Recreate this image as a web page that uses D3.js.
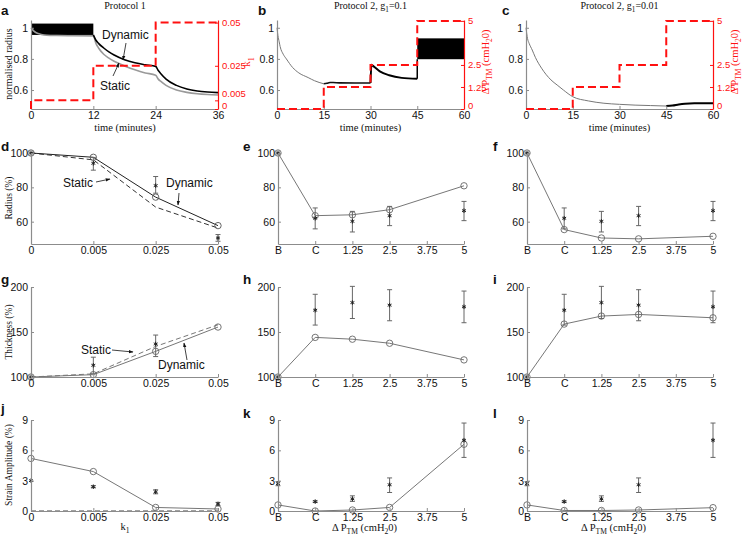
<!DOCTYPE html>
<html><head><meta charset="utf-8">
<script src="https://cdn.jsdelivr.net/npm/d3@7"></script>
<style>body{margin:0;background:#fff}svg{display:block}</style>
</head><body>
<svg id="c" width="743" height="535"></svg>
<script>
// ---------------- DATA ----------------
// Panel a (Protocol 1)
const aTicksX=[0,12,24,36], aTicksY=[0.6,0.8,1], aTicksK=[0,0.005,0.025,0.05];
const aBandT=[0,12], aBandR=[0.954,1.027];
const aStaT=[0,0.5,1,2,3,5,8,12,12.5,13,14,15,16,18,20,22,24,24.5,25,26,28,30,32,34,36];
const aStaR=[1.0,0.98,0.968,0.957,0.952,0.95,0.949,0.948,0.9,0.87,0.83,0.805,0.785,0.755,0.73,0.71,0.695,0.67,0.655,0.63,0.6,0.585,0.576,0.571,0.568];
const aDynT=[12,12.5,13,14,15,16,18,20,22,24,24.5,25,26,28,30,32,34,36];
const aDynR=[0.954,0.92,0.9,0.87,0.845,0.825,0.795,0.775,0.762,0.752,0.725,0.705,0.67,0.63,0.607,0.594,0.587,0.583];
const aStepT=[0,0,12,12,24,24,36];
const aStepK=[0,0.005,0.005,0.025,0.025,0.05,0.05];
// Panel b (Protocol 2, g1=0.1)
const bcTicksX=[0,15,30,45,60], bcTicksP=[0,1.25,2.5,5];
const bT1=[0,0.3,0.7,1,2,3,5,7,10,12,15], bR1=[1.0,0.95,0.91,0.88,0.83,0.8,0.745,0.71,0.68,0.66,0.64];
const bT2=[15,16,17,18,20,25,30], bR2=[0.64,0.643,0.648,0.648,0.646,0.645,0.645];
const bT3=[30,30.3,31,33,36,40,45], bR3=[0.645,0.762,0.752,0.72,0.695,0.678,0.672];
const bBandT=[45,60], bBandR=[0.798,0.932];
const stepT=[0,15,15,30,30,45,45,60], stepP=[0,0,1.25,1.25,2.5,2.5,5,5];
// Panel c (Protocol 2, g1=0.01)
const cT1=[0,0.5,1,2,3,5,8,10,12,15,20,25,30,35,40,45];
const cR1=[1.0,0.93,0.9,0.857,0.81,0.74,0.665,0.632,0.6,0.557,0.53,0.515,0.508,0.503,0.5,0.497];
const cT2=[45,47,49,51,54,60], cR2=[0.497,0.5,0.507,0.512,0.515,0.515];
// Panels d, g, j (vs k1)
const kCats=["0","0.005","0.025","0.05"];
const dDyn=[100,97.5,74.3,57.7], dSta=[100,96,68.5,56.3];
const dExp=[100,94,81,50.5], dExpLo=[100,90,76.6,48.6], dExpHi=[100,97.4,86.3,52.5];
const gDyn=[100,102.6,128.5,155.5], gSta=[100,103.5,134,158];
const gExp=[100,113,136.7], gExpLo=[100,103.6,122.7], gExpHi=[100,122,146.6];
const jDyn=[5.2,3.9,0.35,0.2], jSta=[0,0,0,0];
const jExp=[3.0,2.4,1.9,0.7], jExpLo=[3.0,2.3,1.7,0.55], jExpHi=[3.0,2.5,2.1,0.85];
// Panels e,f,h,i,k,l (vs pressure)
const pTicks=[-1.25,0,1.25,2.5,3.75,5], pTickLabels=["B","C","1.25","2.5","3.75","5"];
const pX=[-1.25,0,1.25,2.5,5];
const rExp=[100,62,60.2,63.5,66.4], rExpLo=[100,55.8,54,57.7,60.6], rExpHi=[100,68,66,68.9,71.8];
const eModel=[100,63.5,64,67,80.9], fModel=[100,55.4,50.5,50,51.5];
const tExp=[100,174.2,182.7,179.8,178], tExpLo=[100,157.7,165,162.5,160.3], tExpHi=[100,191.9,200.7,197,195.5];
const hModel=[100,144,142,137.5,119], iModel=[100,158.8,167.7,169.5,165.8];
const sExp=[2.7,0.93,1.2,2.6,7.0], sExpLo=[2.5,0.85,0.95,1.83,5.3], sExpHi=[2.9,1.0,1.5,3.27,8.7];
const kModel=[0.6,0,0.1,0.35,6.6], lModel=[0.6,0.05,0.05,0.1,0.33];
const ticksR=[60,80,100], ticksT=[100,150,200], ticksS=[0,3,6,9];

// ---------------- DRAW ----------------
const SANS="'Liberation Sans', Arial, Helvetica, sans-serif";
const SERIF="'Liberation Serif', 'Times New Roman', serif";
const AX='#8c8c8c', RED='#ff1010';
const svg=d3.select('#c');
const defs=svg.append('defs');
defs.append('marker').attr('id','arr').attr('viewBox','0 0 10 10').attr('refX',9).attr('refY',5)
  .attr('markerWidth',6).attr('markerHeight',6).attr('orient','auto-start-reverse')
  .append('path').attr('d','M0,1.5L10,5L0,8.5z').attr('fill','#111');

const colL=[31,277,526], colR=[218,464,713];

function styleAxis(g,color,fs,tc){
  g.select('.domain').attr('stroke',color).attr('stroke-width',1.2);
  g.selectAll('.tick line').attr('stroke',color);
  g.selectAll('.tick text').attr('font-family',SANS).attr('font-size',fs||10.5).attr('fill',tc||'#111');
}
function axB(x,y0,ticks,labels){
  const a=d3.axisBottom(x).tickSizeInner(-3).tickSizeOuter(0).tickPadding(3);
  if(ticks) a.tickValues(ticks);
  if(labels) a.tickFormat((d,i)=>labels[i]);
  styleAxis(svg.append('g').attr('transform',`translate(0,${y0})`).call(a),AX);
}
function axL(y,x0,ticks,fmt){
  const a=d3.axisLeft(y).tickValues(ticks).tickSizeInner(-3).tickSizeOuter(0).tickPadding(3);
  if(fmt) a.tickFormat(fmt);
  styleAxis(svg.append('g').attr('transform',`translate(${x0},0)`).call(a),AX);
}
function axR(y,x0,ticks,fmt){
  const a=d3.axisRight(y).tickValues(ticks).tickSizeInner(-3).tickSizeOuter(0).tickPadding(4);
  if(fmt) a.tickFormat(fmt);
  const g=svg.append('g').attr('transform',`translate(${x0},0)`).call(a);
  styleAxis(g,RED,9.5,RED);
  g.selectAll('.tick text').filter(d=>d===0).attr('dy','-0.08em');
  return g;
}
function line(xs,ys,x,y,attrs,curve){
  const data=d3.zip(xs,ys).filter(d=>d[1]!=null);
  const p=svg.append('path').datum(data)
    .attr('d',d3.line().x(d=>x(d[0])).y(d=>y(d[1])).curve(curve||d3.curveLinear))
    .attr('fill','none');
  for(const k in attrs) p.attr(k,attrs[k]);
  return p;
}
function circles(xs,ys,x,y,col){
  svg.append('g').selectAll('circle').data(d3.zip(xs,ys)).join('circle')
    .attr('cx',d=>x(d[0])).attr('cy',d=>y(d[1])).attr('r',3.2)
    .attr('fill','none').attr('stroke',col||'#666').attr('stroke-width',0.9);
}
function stars(xs,ys,lo,hi,x,y){
  const g=svg.append('g');
  d3.zip(xs,ys,lo,hi).forEach(([xv,m,l,h])=>{
    if(m==null) return;
    const px=x(xv);
    if(h-l>0.001){
      g.append('line').attr('x1',px).attr('x2',px).attr('y1',y(l)).attr('y2',y(h)).attr('stroke','#666').attr('stroke-width',1);
      [l,h].forEach(v=>g.append('line').attr('x1',px-2.5).attr('x2',px+2.5).attr('y1',y(v)).attr('y2',y(v)).attr('stroke','#666').attr('stroke-width',1));
    }
    g.append('path').attr('d',d3.symbol(d3.symbolAsterisk,14)()).attr('transform',`translate(${px},${y(m)})`)
      .attr('stroke','#222').attr('stroke-width',1).attr('fill','none');
  });
}
function rich(x,y,parts,o){
  const t=svg.append('text').attr('x',x).attr('y',y).attr('font-family',o.ff).attr('font-size',o.fs)
    .attr('fill',o.fill||'#111').attr('text-anchor',o.anchor||'middle').attr('font-weight',o.fw||'normal');
  if(o.rotate) t.attr('transform',`rotate(${o.rotate},${x},${y})`);
  let prev=false; const sh=o.fs*0.32;
  parts.forEach(([s,sub])=>{
    const ts=t.append('tspan').text(s);
    if(sub){ ts.attr('font-size',o.fs*0.72); if(!prev) ts.attr('dy',sh); }
    else if(prev) ts.attr('dy',-sh);
    prev=sub;
  });
  return t;
}
function letter(x,y,s){ rich(x,y,[[s,false]],{ff:SANS,fs:13.5,fw:'bold',anchor:'start'}); }
function arrow(x1,y1,x2,y2){
  svg.append('line').attr('x1',x1).attr('y1',y1).attr('x2',x2).attr('y2',y2)
    .attr('stroke','#111').attr('stroke-width',0.8).attr('marker-end','url(#arr)');
}
function note(x,y,s){ rich(x,y,[[s,false]],{ff:SANS,fs:12,anchor:'start'}); }

// ---- Row 1 ----
const yTop=d3.scaleLinear([0.478,1.05],[109,20]);
// a
{
  const x=d3.scaleLinear([0,36],[colL[0],colR[0]]);
  const yk=d3.scaleLinear([0,0.0515],[109,20]);
  svg.append('rect').attr('x',x(aBandT[0])).attr('width',x(aBandT[1])-x(aBandT[0]))
    .attr('y',yTop(aBandR[1])).attr('height',yTop(aBandR[0])-yTop(aBandR[1])).attr('fill','#000');
  line(aStaT,aStaR,x,yTop,{stroke:'#9a9a9a','stroke-width':1.6},d3.curveMonotoneX);
  line(aDynT,aDynR,x,yTop,{stroke:'#000','stroke-width':1.6},d3.curveMonotoneX);
  axB(x,109,aTicksX);
  axL(yTop,colL[0],aTicksY,d3.format('~g'));
  const gr=axR(yk,colR[0],aTicksK,d3.format('~g'));
  gr.selectAll('.tick text').filter(d=>d===0.005).attr('dy','-0.4em');
  line(aStepT,aStepK,x,yk,{stroke:RED,'stroke-width':2,'stroke-dasharray':'8,4'});
  rich(125,9,[['Protocol 1',false]],{ff:SERIF,fs:10});
  rich(125,131,[['time (minutes)',false]],{ff:SERIF,fs:10.5});
  rich(12,64,[['normalised radius',false]],{ff:SERIF,fs:10,rotate:-90});
  rich(250,62,[['k',false],['1',true]],{ff:SERIF,fs:11,fill:RED,rotate:-90});
  note(102,39,'Dynamic'); arrow(126,43,123,60);
  note(100,90,'Static'); arrow(113,76,119,63);
  letter(1,15,'a');
}
// b, c
function protoPanel(ci,title,segs,band){
  const x=d3.scaleLinear([0,60],[colL[ci],colR[ci]]);
  const yp=d3.scaleLinear([0,5.05],[109,20]);
  segs.forEach(s=>line(s[0],s[1],x,yTop,s[2],d3.curveMonotoneX));
  if(band){
    svg.append('line').attr('x1',x(band[0][0])).attr('x2',x(band[0][0])).attr('y1',yTop(band[2])).attr('y2',yTop(band[1][0])).attr('stroke','#000').attr('stroke-width',1.5);
    svg.append('rect').attr('x',x(band[0][0])).attr('width',x(band[0][1])-x(band[0][0]))
      .attr('y',yTop(band[1][1])).attr('height',yTop(band[1][0])-yTop(band[1][1])).attr('fill','#000');
  }
  axB(x,109,bcTicksX);
  axL(yTop,colL[ci],aTicksY,d3.format('~g'));
  axR(yp,colR[ci],bcTicksP,d3.format('~g'));
  line(stepT,stepP,x,yp,{stroke:RED,'stroke-width':2,'stroke-dasharray':'8,4'});
  const cx=(colL[ci]+colR[ci])/2;
  rich(cx,9,title,{ff:SERIF,fs:10});
  rich(cx,131,[['time (minutes)',false]],{ff:SERIF,fs:10.5});
  rich(colR[ci]+25,62,[['\u0394 P',false],['TM',true],[' (cmH',false],['2',true],['0)',false]],{ff:SERIF,fs:10.5,fill:RED,rotate:-90});
}
protoPanel(1,[['Protocol 2, g',false],['1',true],['=0.1',false]],
  [[bT1,bR1,{stroke:'#777','stroke-width':1}],[bT2,bR2,{stroke:'#111','stroke-width':1.6}],[bT3,bR3,{stroke:'#000','stroke-width':2}]],
  [bBandT,bBandR,bR3[bR3.length-1]]);
letter(258,15,'b');
protoPanel(2,[['Protocol 2, g',false],['1',true],['=0.01',false]],
  [[cT1,cR1,{stroke:'#777','stroke-width':1}],[cT2,cR2,{stroke:'#000','stroke-width':2}]],null);
letter(502,15,'c');

// ---- Rows 2-4 ----
const yD=d3.scaleLinear([47,100],[244,153]);
const yG=d3.scaleLinear([100,200],[377,287]);
const yJ=d3.scaleLinear([0,9],[511,420]);
const xK=d3.scalePoint(kCats,[colL[0],colR[0]]);

// d
line(kCats,dSta,xK,yD,{stroke:'#333','stroke-width':1,'stroke-dasharray':'5,3'});
line(kCats,dDyn,xK,yD,{stroke:'#222','stroke-width':1});
circles(kCats,dDyn,xK,yD,'#555');
stars(kCats,dExp,dExpLo,dExpHi,xK,yD);
axB(xK,244); axL(yD,colL[0],ticksR);
rich(12,198,[['Radius (%)',false]],{ff:SERIF,fs:9.5,rotate:-90});
note(63,187,'Static'); arrow(96,182,110,179);
note(166,187,'Dynamic'); arrow(179,193,178,205);
letter(1,151,'d');
// g
line(kCats,gSta,xK,yG,{stroke:'#777','stroke-width':1,'stroke-dasharray':'5,3'});
line(kCats,gDyn,xK,yG,{stroke:'#777','stroke-width':1});
circles(kCats,gDyn,xK,yG,'#666');
stars(kCats.slice(0,3),gExp,gExpLo,gExpHi,xK,yG);
axB(xK,377); axL(yG,colL[0],ticksT);
rich(12,332,[['Thickness (%)',false]],{ff:SERIF,fs:9.5,rotate:-90});
note(81,354,'Static'); arrow(112,350,133,352);
note(158,369,'Dynamic'); arrow(187,360,184,343);
letter(1,284,'g');
// j
line(kCats,jSta,xK,yJ,{stroke:'#444','stroke-width':1.2,'stroke-dasharray':'5,3'});
line(kCats,jDyn,xK,yJ,{stroke:'#777','stroke-width':1});
circles(kCats,jDyn,xK,yJ,'#666');
stars(kCats,jExp,jExpLo,jExpHi,xK,yJ);
axB(xK,511); axL(yJ,colL[0],ticksS);
rich(12,465,[['Strain Amplitude (%)',false]],{ff:SERIF,fs:9.5,rotate:-90});
rich(125,530,[['k',false],['1',true]],{ff:SERIF,fs:10.5});
letter(1,413,'j');

function pPanel(ci,y,y0,ticks,model,exp,lo,hi,lab,xlab){
  const x=d3.scaleLinear([-1.25,5],[colL[ci]+1,colR[ci]]);
  line(pX,model,x,y,{stroke:'#777','stroke-width':1});
  circles(pX,model,x,y,'#666');
  stars(pX,exp,lo,hi,x,y);
  axB(x,y0,pTicks,pTickLabels);
  axL(y,colL[ci]+1,ticks);
  letter(colL[ci]-34+(ci===2?1:0),y0-93,lab);
  if(xlab) rich((colL[ci]+colR[ci])/2-6,531,[['\u0394 P',false],['TM',true],[' (cmH',false],['2',true],['0)',false]],{ff:SERIF,fs:10.5});
}
pPanel(1,yD,244,ticksR,eModel,rExp,rExpLo,rExpHi,'e',false);
pPanel(2,yD,244,ticksR,fModel,rExp,rExpLo,rExpHi,'f',false);
pPanel(1,yG,377,ticksT,hModel,tExp,tExpLo,tExpHi,'h',false);
pPanel(2,yG,377,ticksT,iModel,tExp,tExpLo,tExpHi,'i',false);
pPanel(1,yJ,511,ticksS,kModel,sExp,sExpLo,sExpHi,'k',true);
pPanel(2,yJ,511,ticksS,lModel,sExp,sExpLo,sExpHi,'l',true);
</script>
</body></html>
